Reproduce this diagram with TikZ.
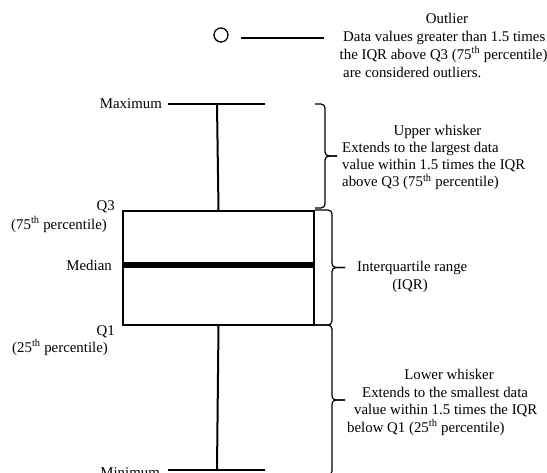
\documentclass[tikz,border=0pt]{standalone}
\usepackage{fontspec}
\setmainfont{Liberation Serif}
\newcommand\drawbrace[5]{%
  \draw[bracepath] (#1,#4) -- (#2,#4) -- (#2,{(#4+#5)/2}) -- (#3,{(#4+#5)/2});
  \draw[bracepath] (#1,#5) -- (#2,#5) -- (#2,{(#4+#5)/2}) -- (#3,{(#4+#5)/2});}
\begin{document}
\begin{tikzpicture}[x=1pt,y=-1pt,
  lbl/.style={inner sep=0pt, font=\fontsize{14.85}{17}\selectfont},
  wline/.style={line width=2pt},
  bracepath/.style={line width=1.2pt, rounded corners=4pt}]
\useasboundingbox (0,0) rectangle (547,472);
\fill[white] (0,0) rectangle (547,472);

% box
\node[draw, line width=2pt, minimum width=191pt, minimum height=114pt, inner sep=0pt,
      anchor=north west] (box) at (122,210) {};
\coordinate (medy) at (0,265);
\draw[line width=5.5pt] (box.west |- medy) -- (box.east |- medy);

% whiskers
\coordinate (maxM) at (217,104);
\coordinate (maxL) at (168,104);
\coordinate (maxR) at (265,104);
\coordinate (minM) at (217,470);
\coordinate (minL) at (168,470);
\coordinate (minR) at (265,470);
\draw[wline] (box.north) -- (maxM);
\draw[wline] (maxL) -- (maxR);
\draw[wline] (box.south) -- (minM);
\draw[wline] (minL) -- (minR);

% outlier
\node[draw, circle, line width=1.3pt, minimum size=14pt, inner sep=0pt] (out) at (221,35) {};
\coordinate (outA) at (241,38);
\coordinate (outB) at (324,38);
\draw[line width=1.2pt] (outA) -- (outB);

% braces
\drawbrace{315}{325}{337}{104}{208}
\drawbrace{315}{332}{345}{210}{325}
\drawbrace{315}{332}{345}{325}{475}

% left labels
\node[lbl, anchor=base east] (lmax) at (162,108.5) {Maximum};
\node[lbl, anchor=base east] (lq3) at (115,210) {Q3};
\node[lbl, anchor=base east] (lq3p) at (107,229) {(75\textsuperscript{th} percentile)};
\node[lbl, anchor=base east] (lmed) at (112,270) {Median};
\node[lbl, anchor=base east] (lq1) at (115,335) {Q1};
\node[lbl, anchor=base east] (lq1p) at (108,352) {(25\textsuperscript{th} percentile)};
\node[lbl, anchor=base east] (lmin) at (160,477) {Minimum};

% outlier text
\node[lbl, anchor=base] (ot) at (447,23) {Outlier};
\node[lbl, anchor=base west] (o1) at (343,41) {Data values greater than 1.5 times};
\node[lbl, anchor=base west] (o2) at (339.5,59) {the IQR above Q3 (75\textsuperscript{th} percentile)};
\node[lbl, anchor=base west] (o3) at (343,77) {are considered outliers.};

% upper whisker text
\node[lbl, anchor=base] (ut) at (437.5,135.5) {Upper whisker};
\node[lbl, anchor=base west] (u1) at (342,152.5) {Extends to the largest data};
\node[lbl, anchor=base west] (u2) at (342,169.5) {value within 1.5 times the IQR};
\node[lbl, anchor=base west] (u3) at (342,186.5) {above Q3 (75\textsuperscript{th} percentile)};

% IQR text
\node[lbl, anchor=base west] (i1) at (357,271) {Interquartile range};
\node[lbl, anchor=base] (i2) at (410,289) {(IQR)};

% lower whisker text
\node[lbl, anchor=base] (lt) at (449,379) {Lower whisker};
\node[lbl, anchor=base west] (l1) at (362,397) {Extends to the smallest data};
\node[lbl, anchor=base west] (l2) at (354,414) {value within 1.5 times the IQR};
\node[lbl, anchor=base west] (l3) at (347,432) {below Q1 (25\textsuperscript{th} percentile)};
\end{tikzpicture}
\end{document}
